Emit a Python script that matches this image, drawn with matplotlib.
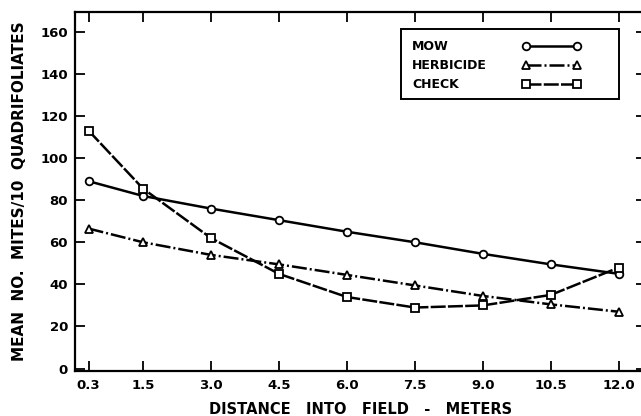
import matplotlib.pyplot as plt
from matplotlib.patches import Rectangle

distance = [0.3, 1.5, 3.0, 4.5, 6.0, 7.5, 9.0, 10.5, 12.0]
mow = [89, 82, 76, 70.5, 65, 60, 54.5, 49.5, 45]
herbicide = [66.5, 60, 54, 49.5, 44.5, 39.5, 34.5, 30.5, 27]
check = [113, 85.5, 62, 45, 34, 29, 30, 35, 48]
yticks = [0, 20, 40, 60, 80, 100, 120, 140, 160]
xtick_labels = ["0.3", "1.5", "3.0", "4.5", "6.0", "7.5", "9.0", "10.5", "12.0"]

plt.rcParams["font.family"] = "DejaVu Sans"
plt.rcParams["font.weight"] = "bold"

W, H = 641, 416
fig = plt.figure(figsize=(W / 100, H / 100), dpi=100)
ax = fig.add_axes([75 / W, 45.3 / H, 571 / W, 359 / H])

mk = dict(markersize=5.5, markerfacecolor="white", markeredgecolor="black",
          markeredgewidth=1.3, color="black", linewidth=1.8)
ax.plot(distance, mow, marker="o", linestyle="-", label="MOW", **mk)
ax.plot(distance, herbicide, marker="^", linestyle=(0, (6, 1.2, 0.8, 1.2)),
        label="HERBICIDE", **mk)
ax.plot(distance, check, marker="s", linestyle=(0, (6, 0.9)), label="CHECK", **mk)

ax.set_xlim(0, 12.6)
ax.set_ylim(-1, 169.5)
ax.set_xticks(distance)
ax.set_xticklabels(xtick_labels)
ax.set_yticks(yticks)
ax.tick_params(direction="in", length=7, width=1.3, top=True, right=True,
               labelsize=9.5)
ax.tick_params(axis="x", pad=6)
ax.tick_params(axis="y", pad=5)
for s in ax.spines.values():
    s.set_linewidth(1.6)

ax.set_xlabel("DISTANCE   INTO   FIELD   -   METERS", fontsize=10.5,
              fontweight="bold", labelpad=7)
ax.set_ylabel("MEAN  NO.  MITES/10  QUADRIFOLIATES", fontsize=11,
              fontweight="bold", labelpad=10)

# legend box drawn separately (text left, samples right)
box = Rectangle((401 / W, 1 - 99 / H), 218 / W, 70 / H,
                transform=fig.transFigure, facecolor="white",
                edgecolor="black", linewidth=1.4, zorder=4, clip_on=False)
ax.add_patch(box)
leg = ax.legend(loc="upper left", bbox_to_anchor=(412 / W, 1 - 40 / H),
                bbox_transform=fig.transFigure, markerfirst=False, numpoints=2,
                handlelength=4.7, handletextpad=2.8, frameon=False,
                prop=dict(size=9, weight="bold"), borderpad=0,
                borderaxespad=0, labelspacing=0.5)
leg.set_zorder(6)

# left-align the legend labels while keeping the samples in one column
renderer = fig.canvas.get_renderer()
rows = leg._legend_handle_box.get_children()[0].get_children()
widths = [t.get_window_extent(renderer).width for t in leg.get_texts()]
for row, w in zip(rows, widths):
    row.sep += (max(widths) - w) * 72 / fig.dpi

fig.savefig("out.png", dpi=100)
